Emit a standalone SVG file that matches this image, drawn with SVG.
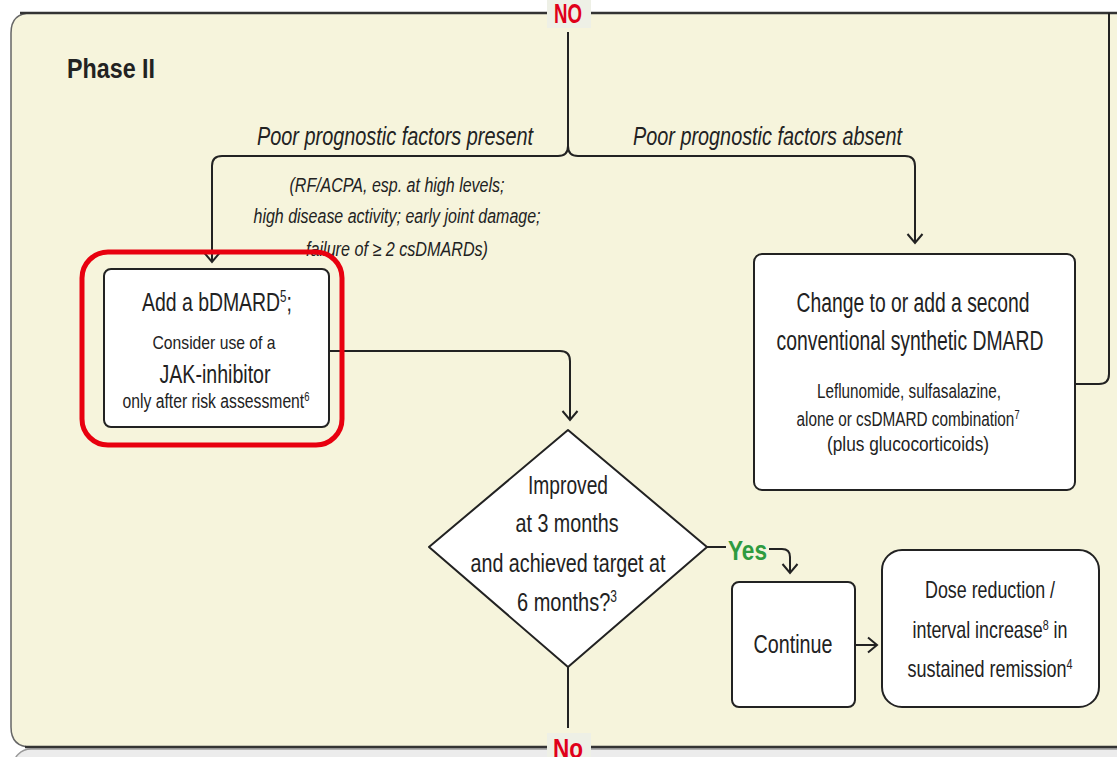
<svg xmlns="http://www.w3.org/2000/svg" width="1117" height="757" viewBox="0 0 1117 757">
<style>
text{font-family:"Liberation Sans",Arial,sans-serif;fill:#222}
.c{text-anchor:middle}
.it{font-style:italic}
.box{fill:#fff;stroke:#222;stroke-width:2}
.con{fill:none;stroke:#222;stroke-width:2}
.red{fill:#e0001a;font-weight:bold}
.sup{font-size:60%}
</style>
<defs>
<marker id="arr" markerUnits="userSpaceOnUse" markerWidth="24" markerHeight="24" viewBox="-12 -12 24 24" refX="0" refY="0" orient="auto">
<path d="M-9,-7.5 L0,0 L-9,7.5" fill="none" stroke="#222" stroke-width="2" stroke-linejoin="miter"/>
</marker>
</defs>
<rect x="0" y="0" width="1117" height="757" fill="#ffffff"/>
<g id="lower-panel">
<rect x="13" y="749" width="1120" height="40" rx="18" fill="#ececec" stroke="#9a9a9a" stroke-width="1.5"/>
</g>
<g id="panel">
<path d="M1117,13 H31 Q11,13 11,33 V727 Q11,747 31,747 H1117 Z" fill="#f6f4dc"/>
<path d="M1117,13 H31 Q11,13 11,33 V727 Q11,747 31,747 H1117" fill="none" stroke="#666" stroke-width="1.5"/>
<line x1="20" y1="13" x2="1117" y2="13" stroke="#333" stroke-width="2.5"/>
<line x1="25" y1="747" x2="1117" y2="747" stroke="#333" stroke-width="2.5"/>
<text x="67" y="78" font-size="28" font-weight="bold" textLength="88" lengthAdjust="spacingAndGlyphs">Phase II</text>
</g>
<g id="connectors">
<path class="con" d="M568,32 V146 Q568,156 558,156 H222 Q212,156 212,166 V262" marker-end="url(#arr)"/>
<path class="con" d="M568,146 Q568,156 578,156 H905 Q915,156 915,166 V243" marker-end="url(#arr)"/>
<path class="con" d="M329,351 H560 Q570,351 570,361 V420" marker-end="url(#arr)"/>
<path class="con" d="M707,547 H726"/>
<path class="con" d="M769,549 H782 Q790,549 790,557 V573" marker-end="url(#arr)"/>
<path class="con" d="M855,645 H877" marker-end="url(#arr)"/>
<path class="con" d="M568,667 V728"/>
<path class="con" d="M1075,384 H1099 Q1109,384 1109,374 V13"/>
<text class="it" x="257" y="145" font-size="25" textLength="276" lengthAdjust="spacingAndGlyphs">Poor prognostic factors present</text>
<text class="it" x="633" y="145" font-size="25" textLength="269" lengthAdjust="spacingAndGlyphs">Poor prognostic factors absent</text>
<text class="it c" x="397" y="192" font-size="20" textLength="215" lengthAdjust="spacingAndGlyphs">(RF/ACPA, esp. at high levels;</text>
<text class="it c" x="397" y="223" font-size="20" textLength="287" lengthAdjust="spacingAndGlyphs">high disease activity; early joint damage;</text>
<text class="it c" x="397" y="256" font-size="20" textLength="182" lengthAdjust="spacingAndGlyphs">failure of ≥ 2 csDMARDs)</text>
<rect x="547" y="0" width="44" height="28" fill="#eef0e6"/>
<text class="red c" x="568" y="23" font-size="27" textLength="28" lengthAdjust="spacingAndGlyphs">NO</text>
<rect x="547" y="733" width="44" height="24" fill="#eef0e6"/>
<text class="red c" x="568" y="758" font-size="28" textLength="30" lengthAdjust="spacingAndGlyphs">No</text>
<text x="728" y="560" font-size="27" font-weight="bold" style="fill:#2e9b3f" textLength="39" lengthAdjust="spacingAndGlyphs">Yes</text>
</g>
<g id="node-bdmard">
<rect class="box" x="104" y="269" width="225" height="158" rx="7"/>
<text class="c" x="217" y="311" font-size="26" textLength="150" lengthAdjust="spacingAndGlyphs">Add a bDMARD<tspan class="sup" dy="-9">5</tspan><tspan dy="9">;</tspan></text>
<text class="c" x="214" y="349" font-size="19" textLength="123" lengthAdjust="spacingAndGlyphs">Consider use of a</text>
<text class="c" x="215" y="383" font-size="26" textLength="111" lengthAdjust="spacingAndGlyphs">JAK-inhibitor</text>
<text class="c" x="216" y="408" font-size="20" textLength="187" lengthAdjust="spacingAndGlyphs">only after risk assessment<tspan class="sup" dy="-7">6</tspan></text>
</g>
<g id="highlight">
<rect x="82" y="252" width="260" height="193" rx="26" fill="none" stroke="#e8000f" stroke-width="5"/>
</g>
<g id="node-change">
<rect class="box" x="754" y="254" width="321" height="236" rx="8"/>
<text class="c" x="913" y="312" font-size="27" textLength="233" lengthAdjust="spacingAndGlyphs">Change to or add a second</text>
<text class="c" x="910" y="350" font-size="27" textLength="267" lengthAdjust="spacingAndGlyphs">conventional synthetic DMARD</text>
<text class="c" x="909" y="398" font-size="20" textLength="184" lengthAdjust="spacingAndGlyphs">Leflunomide, sulfasalazine,</text>
<text class="c" x="908" y="426" font-size="20" textLength="223" lengthAdjust="spacingAndGlyphs">alone or csDMARD combination<tspan class="sup" dy="-7">7</tspan></text>
<text class="c" x="908" y="451" font-size="20" textLength="162" lengthAdjust="spacingAndGlyphs">(plus glucocorticoids)</text>
</g>
<g id="node-decision">
<polygon class="box" points="568,430 707,547 568,667 429,547" stroke-linejoin="round"/>
<text class="c" x="568" y="494" font-size="26" textLength="80" lengthAdjust="spacingAndGlyphs">Improved</text>
<text class="c" x="567" y="532" font-size="26" textLength="103" lengthAdjust="spacingAndGlyphs">at 3 months</text>
<text class="c" x="568" y="572" font-size="26" textLength="195" lengthAdjust="spacingAndGlyphs">and achieved target at</text>
<text class="c" x="567" y="611" font-size="26" textLength="100" lengthAdjust="spacingAndGlyphs">6 months?<tspan class="sup" dy="-9">3</tspan></text>
</g>
<g id="node-continue">
<rect class="box" x="732" y="582" width="123" height="125" rx="7"/>
<text class="c" x="793" y="653" font-size="25" textLength="79" lengthAdjust="spacingAndGlyphs">Continue</text>
</g>
<g id="node-dose">
<rect class="box" x="882" y="550" width="217" height="157" rx="20"/>
<text class="c" x="990" y="598" font-size="24" textLength="130" lengthAdjust="spacingAndGlyphs">Dose reduction /</text>
<text class="c" x="990" y="638" font-size="24" textLength="155" lengthAdjust="spacingAndGlyphs">interval increase<tspan class="sup" dy="-8">8</tspan><tspan dy="8"> in</tspan></text>
<text class="c" x="990" y="677" font-size="24" textLength="165" lengthAdjust="spacingAndGlyphs">sustained remission<tspan class="sup" dy="-8">4</tspan></text>
</g>
</svg>
